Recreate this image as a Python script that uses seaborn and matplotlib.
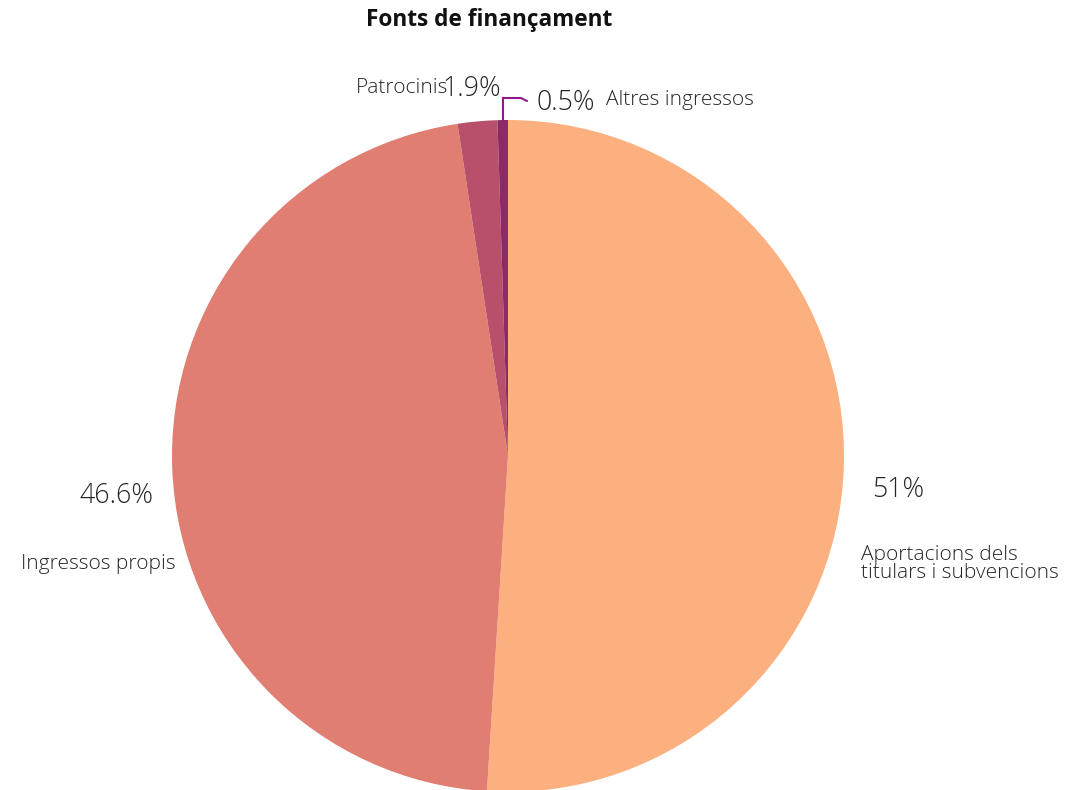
import matplotlib
matplotlib.use("Agg")
import matplotlib.pyplot as plt
import seaborn as sns

categories = ["Aportacions dels\ntitulars i subvencions", "Ingressos propis", "Patrocinis", "Altres ingressos"]
values = [51, 46.6, 1.9, 0.5]
colors = ["#FDB07F", "#E07E72", "#B8506B", "#8B2A66"]
title = "Fonts de finançament"

sns.set_theme(style="white")
plt.rcParams["font.family"] = ["Open Sans", "DejaVu Sans"]

W, H = 1080, 790
fig = plt.figure(figsize=(W / 100, H / 100), dpi=100)
fig.patch.set_facecolor("white")
ax = fig.add_axes([0, 0, 1, 1])

cx, cy, r = 508, H - 456, 336
ax.pie(values, colors=colors, startangle=90, counterclock=False,
       center=(cx, cy), radius=r, wedgeprops=dict(linewidth=0))
ax.set_xlim(0, W)
ax.set_ylim(0, H)
ax.set_aspect("equal")
ax.axis("off")

tc = "#262626"
def pct(v):
    return f"{v:g}%"

def T(x, y, s, **kw):
    kw.setdefault("color", tc)
    kw.setdefault("fontweight", "light")
    ax.text(x, H - y, s, **kw)

T(489, 20, title, fontsize=16.3, fontweight="bold", ha="center", va="center", color="#111111")

# 51%
T(898, 490, pct(values[0]), fontsize=19.3, ha="center", va="center")
T(861, 564, categories[0], fontsize=15, ha="left", va="center", linespacing=0.85)
# 46.6%
T(116, 496, pct(values[1]), fontsize=19.3, ha="center", va="center")
T(98, 564, categories[1], fontsize=15, ha="center", va="center")
# Patrocinis
T(448, 88, categories[2], fontsize=15, ha="right", va="center")
T(442, 89, pct(values[2]), fontsize=19.3, ha="left", va="center")
# Altres
T(537, 103, pct(values[3]), fontsize=19.3, ha="left", va="center")
T(606, 100, categories[3], fontsize=15, ha="left", va="center")

ax.plot([503, 503, 521, 527], [H - 120, H - 98, H - 98, H - 101],
        color="#8B1A8B", linewidth=1.5, solid_joinstyle="miter")

fig.savefig("out.png", dpi=100, facecolor="white")
